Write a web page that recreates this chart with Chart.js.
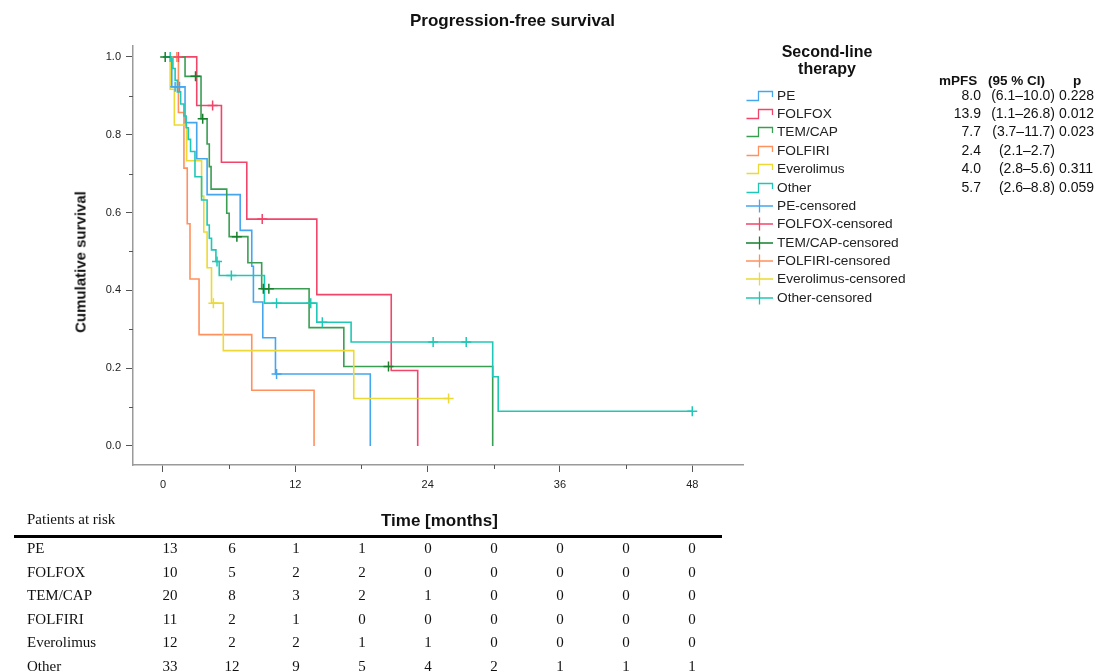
<!DOCTYPE html>
<html>
<head>
<meta charset="utf-8">
<script src="https://cdn.jsdelivr.net/npm/chart.js@4/dist/chart.umd.min.js"></script>
<style>
  html, body { margin:0; padding:0; background:#fff; }
  body { width:1097px; height:672px; position:relative; overflow:hidden; font-family:"Liberation Sans", Arial, sans-serif; color:#111; }
  #c { position:absolute; left:0; top:0; }
  .abs { position:absolute; white-space:nowrap; }
  .title { font-weight:bold; font-size:17px; }
  .leg { font-size:13.7px; line-height:18px; color:#222; }
  .num { font-size:14px; text-align:right; }
  .serif { font-family:"Liberation Serif","Times New Roman",serif; font-size:15px; color:#111; }
</style>
</head>
<body>
<canvas id="c" width="1097" height="672"></canvas>
<div id="overlay"></div>
<script>
// ---- data ----
const groups = ["PE","FOLFOX","TEM/CAP","FOLFIRI","Everolimus","Other"];
const colors = ["#45a6ee","#f2456a","#3a9e52","#ff915e","#ecd935","#1fc8b6"];
const censColors = ["#45a6ee","#f2456a","#16802c","#ff915e","#ecd935","#1fc8b6"];

const pe_time = [0, 0.8, 2.0, 3.06, 4.0, 7.0, 8.05, 8.2, 9.05, 10.2, 18.8];
const pe_surv = [1, 0.923, 0.831, 0.738, 0.646, 0.554, 0.462, 0.370, 0.278, 0.185, 0];
const pe_cens_time = [1.1, 1.5, 10.3];
const pe_cens_surv = [0.923, 0.923, 0.185];

const folfox_time = [0, 3.06, 5.3, 7.6, 13.95, 20.7, 23.1];
const folfox_surv = [1, 0.875, 0.729, 0.583, 0.389, 0.194, 0];
const folfox_cens_time = [1.4, 4.5, 9.0];
const folfox_cens_surv = [1, 0.875, 0.583];

const temcap_time = [0, 2.0, 3.45, 4.0, 4.2, 4.36, 5.78, 6.0, 7.7, 8.95, 13.25, 16.4, 29.9];
const temcap_surv = [1, 0.95, 0.841, 0.776, 0.718, 0.66, 0.598, 0.538, 0.471, 0.404, 0.304, 0.204, 0];
const temcap_cens_time = [0.2, 2.95, 3.6, 6.7, 9.1, 9.6, 20.45];
const temcap_cens_surv = [1, 0.95, 0.841, 0.538, 0.404, 0.404, 0.204];

const folfiri_time = [0, 1.4, 1.9, 2.2, 2.45, 3.27, 8.05, 13.7];
const folfiri_surv = [1, 0.857, 0.714, 0.571, 0.429, 0.286, 0.143, 0];
const folfiri_cens_time = [1.25];
const folfiri_cens_surv = [1];

const evero_time = [0, 0.65, 1.03, 2.15, 3.5, 3.7, 4.0, 4.4, 5.47, 17.3, 25.9];
const evero_surv = [1, 0.917, 0.825, 0.733, 0.642, 0.55, 0.458, 0.367, 0.245, 0.122, 0.122];
const evero_cens_time = [4.57, 25.9];
const evero_cens_surv = [0.367, 0.122];

const other_time = [0, 0.9, 1.1, 1.3, 1.6, 1.9, 2.1, 2.3, 2.5, 2.9, 3.5, 4.0, 4.2, 4.4, 4.8, 5.1, 9.2, 13.95, 17.06, 29.9, 30.4, 48.0];
const other_surv = [1, 0.97, 0.94, 0.91, 0.879, 0.848, 0.818, 0.788, 0.757, 0.692, 0.632, 0.568, 0.534, 0.504, 0.474, 0.438, 0.367, 0.318, 0.267, 0.178, 0.089, 0.089];
const other_cens_time = [0.65, 4.9, 6.2, 10.3, 13.4, 14.45, 24.5, 27.5, 48.0];
const other_cens_surv = [1, 0.474, 0.438, 0.367, 0.367, 0.318, 0.267, 0.267, 0.089];

const xTicks = [0, 12, 24, 36, 48];
const yTicks = [0, 0.2, 0.4, 0.6, 0.8, 1.0];
const xMinor = [6, 18, 30, 42];
const yMinor = [0.1, 0.3, 0.5, 0.7, 0.9];

const riskTimes = [0, 6, 12, 18, 24, 30, 36, 42, 48];
const risk_pe = [13, 6, 1, 1, 0, 0, 0, 0, 0];
const risk_folfox = [10, 5, 2, 2, 0, 0, 0, 0, 0];
const risk_temcap = [20, 8, 3, 2, 1, 0, 0, 0, 0];
const risk_folfiri = [11, 2, 1, 0, 0, 0, 0, 0, 0];
const risk_evero = [12, 2, 2, 1, 1, 0, 0, 0, 0];
const risk_other = [33, 12, 9, 5, 4, 2, 1, 1, 1];

const mpfs = ["8.0", "13.9", "7.7", "2.4", "4.0", "5.7"];
const ci = ["(6.1\u201310.0)", "(1.1\u201326.8)", "(3.7\u201311.7)", "(2.1\u20132.7)", "(2.8\u20135.6)", "(2.6\u20138.8)"];
const pvals = ["0.228", "0.012", "0.023", "", "0.311", "0.059"];

// ---- build datasets ----
const curves = [
  [pe_time, pe_surv, pe_cens_time, pe_cens_surv],
  [folfox_time, folfox_surv, folfox_cens_time, folfox_cens_surv],
  [temcap_time, temcap_surv, temcap_cens_time, temcap_cens_surv],
  [folfiri_time, folfiri_surv, folfiri_cens_time, folfiri_cens_surv],
  [evero_time, evero_surv, evero_cens_time, evero_cens_surv],
  [other_time, other_surv, other_cens_time, other_cens_surv]
];
const zip = (a, b) => a.map((v, i) => ({x: v, y: b[i]}));
const datasets = [];
curves.forEach((c, i) => {
  datasets.push({
    label: groups[i], type: 'line', data: zip(c[0], c[1]),
    borderColor: colors[i], borderWidth: 1.6, stepped: true,
    pointRadius: 0, fill: false, order: 10 - i
  });
});
curves.forEach((c, i) => {
  datasets.push({
    label: groups[i] + '-censored', type: 'scatter', data: zip(c[2], c[3]),
    borderColor: censColors[i], backgroundColor: censColors[i],
    pointStyle: 'cross', pointRadius: 5, borderWidth: 1.5, showLine: false, order: 1
  });
});

const minorTicks = {
  id: 'minorTicks',
  afterDraw(chart) {
    const ctx = chart.ctx, xs = chart.scales.x, ys = chart.scales.y;
    ctx.save();
    ctx.strokeStyle = '#555'; ctx.lineWidth = 1;
    const bottom = xs.top, left = ys.right;
    xMinor.forEach(v => { const p = Math.round(xs.getPixelForValue(v)) + 0.5; ctx.beginPath(); ctx.moveTo(p, bottom); ctx.lineTo(p, bottom + 4); ctx.stroke(); });
    yMinor.forEach(v => { const p = Math.round(ys.getPixelForValue(v)) + 0.5; ctx.beginPath(); ctx.moveTo(left - 4, p); ctx.lineTo(left, p); ctx.stroke(); });
    ctx.restore();
  }
};

new Chart(document.getElementById('c'), {
  type: 'line',
  data: { datasets },
  options: {
    responsive: false, animation: false, devicePixelRatio: 1,
    layout: { padding: { left: 0, top: 46, right: 354, bottom: 167 } },
    plugins: { legend: { display: false }, tooltip: { enabled: false }, title: { display: false } },
    scales: {
      x: {
        type: 'linear', min: -2.72, max: 52.6,
        afterFit(s) { s.height = 40; },
        afterBuildTicks(s) { s.ticks = xTicks.map(v => ({ value: v })); },
        ticks: { font: { family: 'Liberation Sans', size: 11 }, color: '#222', padding: 6, maxRotation: 0, autoSkip: false, callback: v => String(v) },
        grid: { drawOnChartArea: false, drawTicks: true, tickLength: 7, tickColor: '#555', tickWidth: 1 },
        border: { color: '#9a9a9a', width: 1.5 }
      },
      y: {
        type: 'linear', min: -0.049, max: 1.028,
        afterFit(s) { s.width = 133; },
        afterBuildTicks(s) { s.ticks = yTicks.map(v => ({ value: v })); },
        ticks: { font: { family: 'Liberation Sans', size: 11 }, color: '#222', padding: 5, callback: v => v.toFixed(1) },
        grid: { drawOnChartArea: false, drawTicks: true, tickLength: 7, tickColor: '#555', tickWidth: 1 },
        border: { color: '#9a9a9a', width: 1.5 }
      }
    }
  },
  plugins: [minorTicks]
});

// ---- overlay text: titles, legend, stats, risk table ----
const ov = document.getElementById('overlay');
function add(html, style, cls) {
  const d = document.createElement('div');
  d.className = 'abs ' + (cls || '');
  d.innerHTML = html;
  Object.assign(d.style, style);
  ov.appendChild(d);
  return d;
}
add('Progression-free survival', { left: '410px', top: '11px' }, 'title');
add('Cumulative survival', { left: '80px', top: '262px', transform: 'translate(-50%,-50%) rotate(-90deg)', fontWeight: 'bold', fontSize: '15px' });
add('Time [months]', { left: '381px', top: '511px' }, 'title');

// legend
add('Second-line<br>therapy', { left: '827px', top: '43px', transform: 'translateX(-50%)', textAlign: 'center', fontWeight: 'bold', fontSize: '16px', lineHeight: '17px' });
const legY0 = 95.7, legDy = 18.36;
function stepIcon(col) {
  return '<svg width="28" height="12" style="position:absolute;left:-31px;top:3px"><path d="M0.5 10.5 H12.5 V1.5 H26.5 V7" fill="none" stroke="' + col + '" stroke-width="1.3"/></svg>';
}
function crossIcon(col) {
  return '<svg width="28" height="14" style="position:absolute;left:-31px;top:2px"><path d="M0 7 H27 M13.5 0.5 V13.5" fill="none" stroke="' + col + '" stroke-width="1.3"/></svg>';
}
groups.forEach((g, i) => {
  add(stepIcon(colors[i]) + g, { left: '777px', top: (legY0 + i * legDy - 9) + 'px' }, 'leg');
});
groups.forEach((g, i) => {
  add(crossIcon(censColors[i]) + g + '-censored', { left: '777px', top: (legY0 + (i + 6) * legDy - 9) + 'px' }, 'leg');
});

// stats table
add('mPFS', { left: '939px', top: '73px', fontWeight: 'bold', fontSize: '13.5px' });
add('(95 % CI)', { left: '988px', top: '73px', fontWeight: 'bold', fontSize: '13.5px' });
add('p', { left: '1073px', top: '73px', fontWeight: 'bold', fontSize: '13.5px' });
groups.forEach((g, i) => {
  const top = (legY0 + i * legDy - 9) + 'px';
  add(mpfs[i], { right: (1097 - 981) + 'px', top }, 'num');
  add(ci[i], { right: (1097 - 1055) + 'px', top }, 'num');
  add(pvals[i], { left: '1059px', top }, 'num');
});

// risk table
add('Patients at risk', { left: '27px', top: '511px' }, 'serif');
const line = document.createElement('div');
Object.assign(line.style, { position: 'absolute', left: '14px', top: '535px', width: '708px', height: '2.5px', background: '#000' });
ov.appendChild(line);
const riskRows = [risk_pe, risk_folfox, risk_temcap, risk_folfiri, risk_evero, risk_other];
const colX = [170, 232, 296, 362, 428, 494, 560, 626, 692];
riskRows.forEach((row, r) => {
  const top = 540 + r * 23.6;
  add(groups[r], { left: '27px', top: top + 'px' }, 'serif');
  row.forEach((v, k) => {
    add(String(v), { left: colX[k] + 'px', top: top + 'px', transform: 'translateX(-50%)' }, 'serif');
  });
});
</script>
</body>
</html>
